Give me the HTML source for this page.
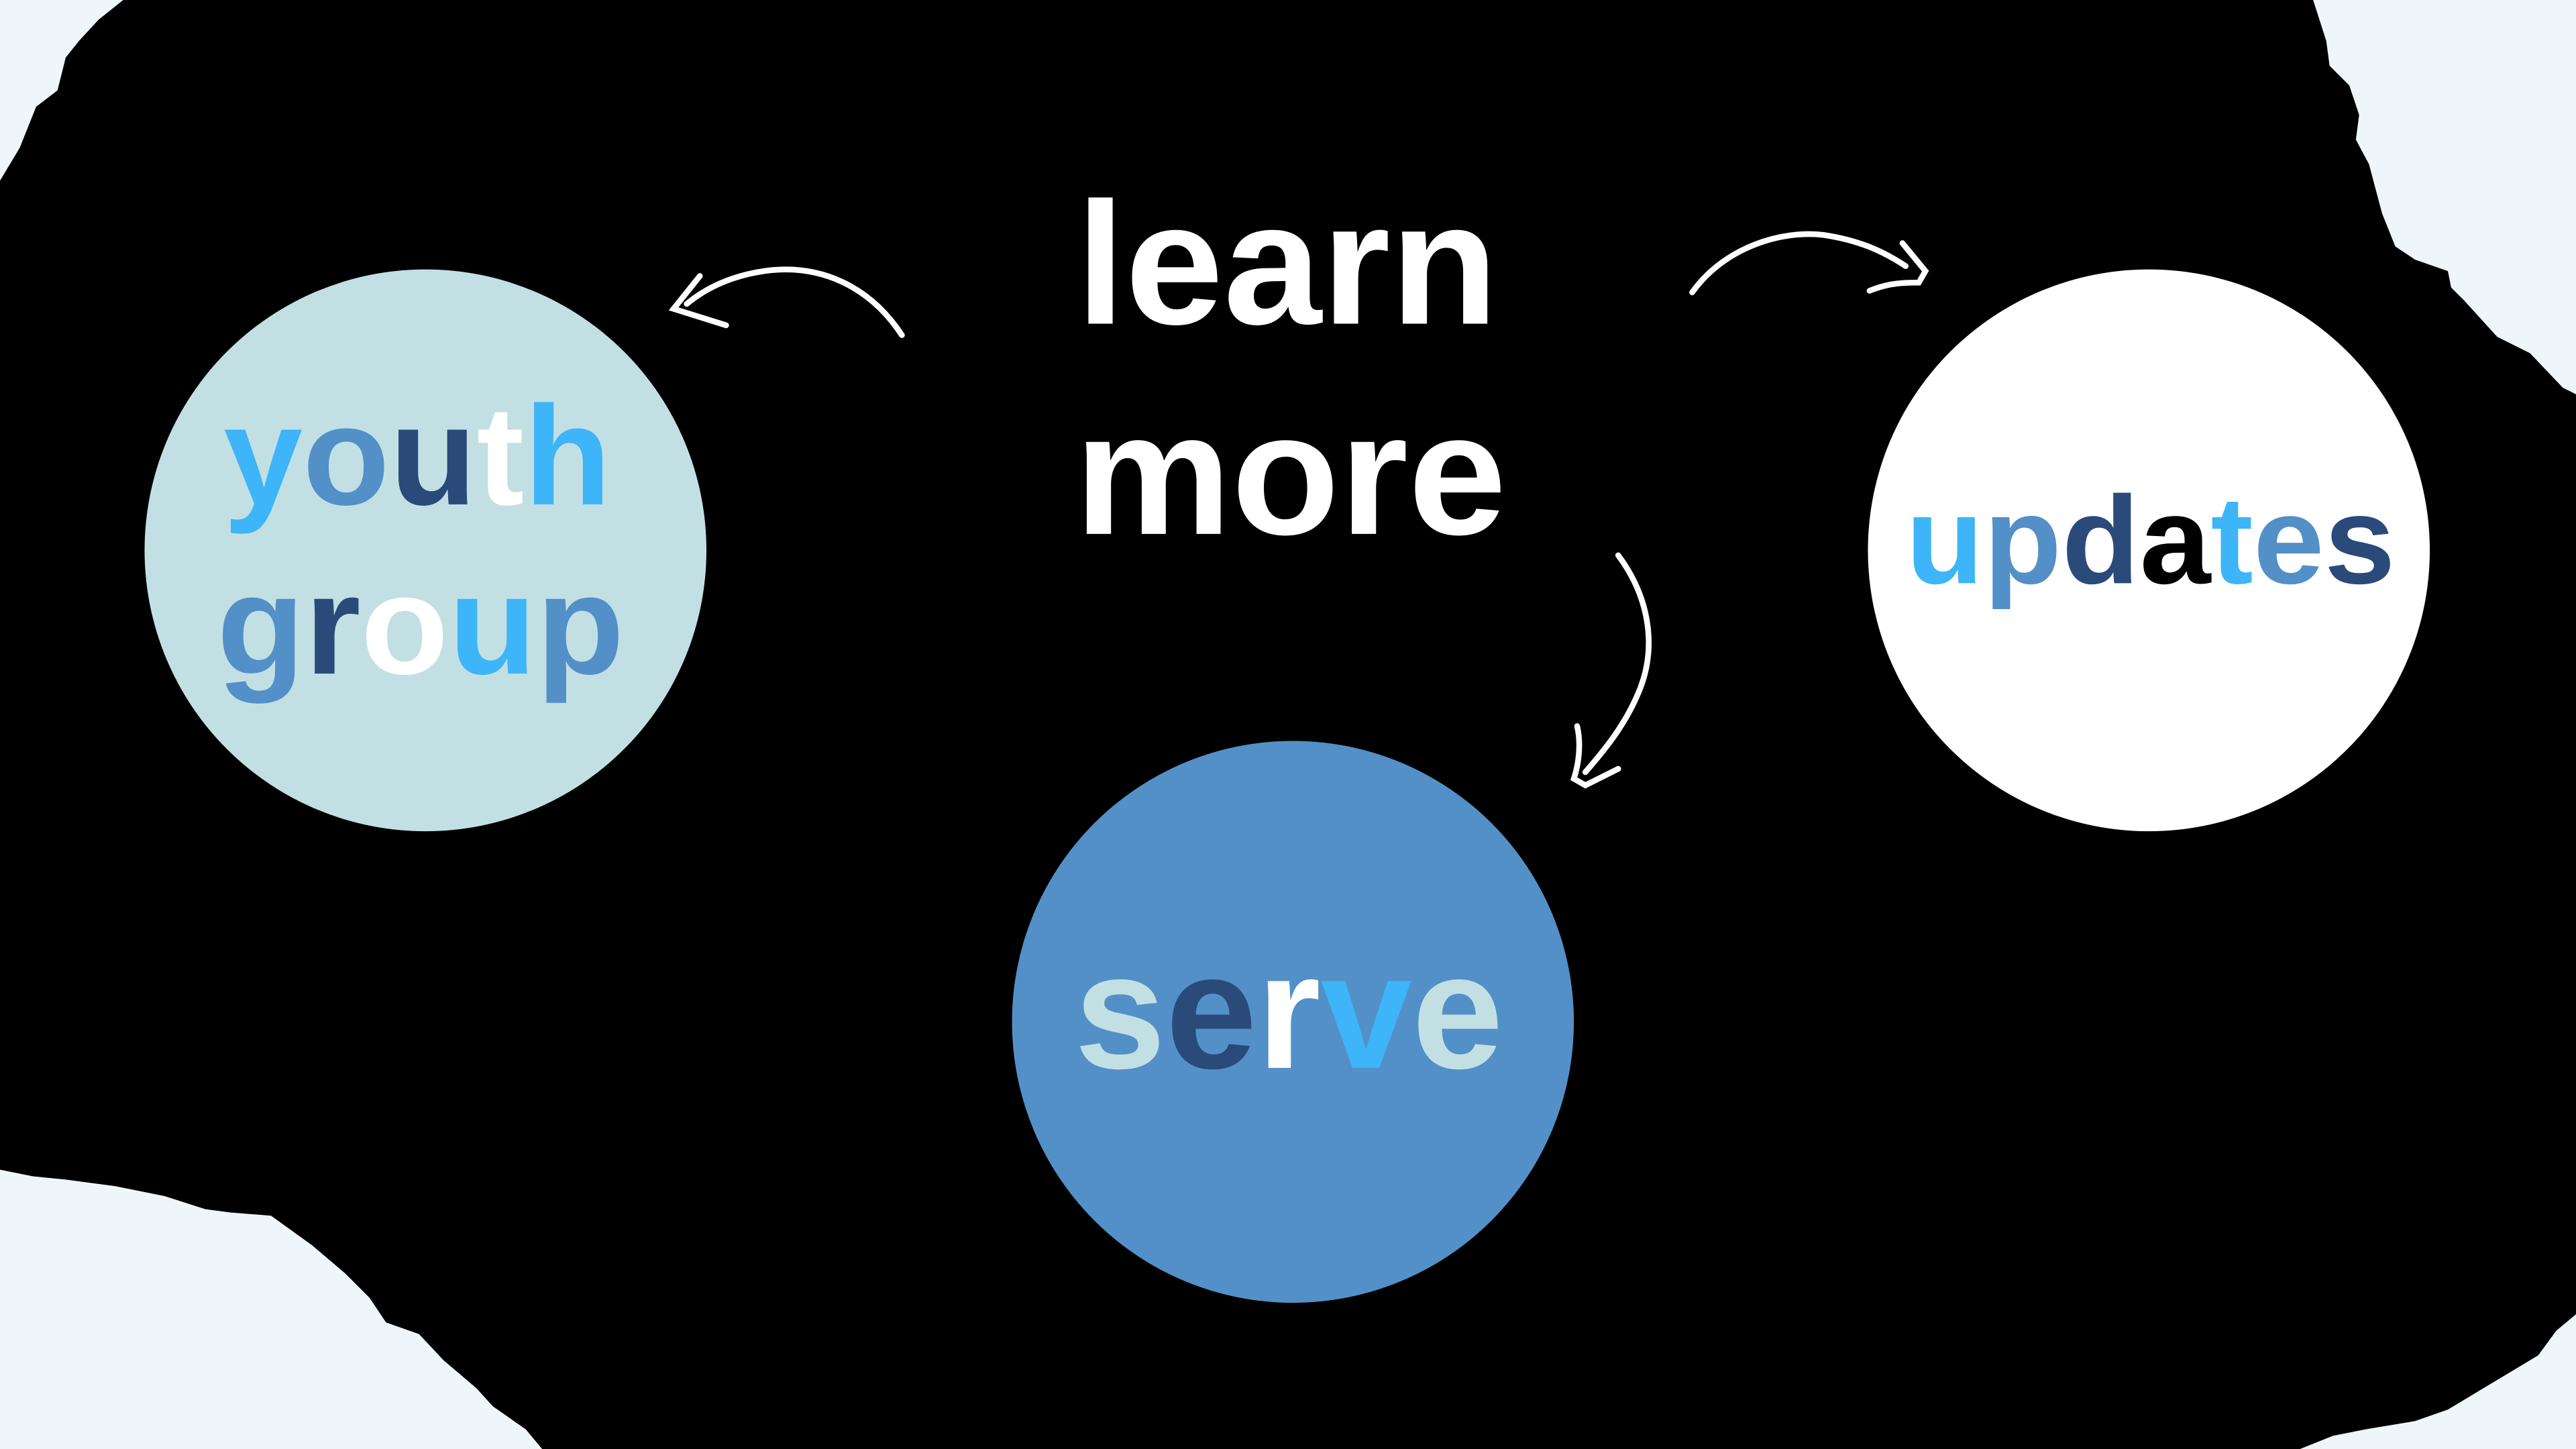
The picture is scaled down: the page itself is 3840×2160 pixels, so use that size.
<!DOCTYPE html>
<html><head><meta charset="utf-8"><style>
html,body{margin:0;padding:0;background:#eef6f9;}
svg{display:block;}
text{font-family:"Liberation Sans",sans-serif;font-weight:bold;}
</style></head><body>
<svg width="3840" height="2160" viewBox="0 0 1568 882" xmlns="http://www.w3.org/2000/svg">
<rect width="1568" height="882" fill="#eef6f9"/>
<path d="M75,0 L1408,0 L1416,25 L1418,40 L1430,52 L1436,70 L1434,85 L1442,100 L1450,130 L1458,150 L1470,158 L1490,165 L1492,175 L1500,183 L1520,205 L1540,215 L1560,236 L1568,240 L1568,800 L1556,810 L1545,825 L1520,840 L1490,858 L1470,865 L1440,870 L1420,874 L1400,882 L330,882 L320,870 L300,856 L290,845 L270,828 L255,812 L235,805 L225,790 L210,775 L190,758 L165,740 L140,738 L125,736 L100,728 L70,722 L40,718 L20,716 L0,712 L0,110 L12,90 L22,65 L35,55 L40,35 L48,25 L60,12 Z" fill="#000"/>
<circle cx="259" cy="335" r="171" fill="#c2e0e4"/>
<circle cx="1308" cy="335" r="171" fill="#fff"/>
<circle cx="787" cy="622" r="171" fill="#5390c8"/>
<text x="655" y="197" font-size="106" fill="#fff" textLength="257" lengthAdjust="spacingAndGlyphs">learn</text>
<text x="654" y="325" font-size="106" fill="#fff" textLength="263" lengthAdjust="spacingAndGlyphs">more</text>
<text x="136" y="307" font-size="86" textLength="236" lengthAdjust="spacingAndGlyphs"><tspan fill="#3db5f8">y</tspan><tspan fill="#5390c8">o</tspan><tspan fill="#2a4a7a">u</tspan><tspan fill="#fff">t</tspan><tspan fill="#3db5f8">h</tspan></text>
<text x="132" y="410" font-size="86" textLength="248" lengthAdjust="spacingAndGlyphs"><tspan fill="#5390c8">g</tspan><tspan fill="#2a4a7a">r</tspan><tspan fill="#fff">o</tspan><tspan fill="#3db5f8">u</tspan><tspan fill="#5390c8">p</tspan></text>
<text x="1160" y="355" font-size="76" textLength="298" lengthAdjust="spacingAndGlyphs"><tspan fill="#3db5f8">u</tspan><tspan fill="#5390c8">p</tspan><tspan fill="#2a4a7a">d</tspan><tspan fill="#000">a</tspan><tspan fill="#3db5f8">t</tspan><tspan fill="#5390c8">e</tspan><tspan fill="#2a4a7a">s</tspan></text>
<text x="654" y="650" font-size="100" textLength="261" lengthAdjust="spacingAndGlyphs"><tspan fill="#c2e0e4">s</tspan><tspan fill="#2a4a7a">e</tspan><tspan fill="#fff">r</tspan><tspan fill="#3db5f8">v</tspan><tspan fill="#c2e0e4">e</tspan></text>
<g fill="none" stroke="#fff" stroke-width="3.5" stroke-linecap="round">
<path d="M549,204 C530,175 500,160 465,165 C445,168 430,175 418,185"/>
<path d="M426,168 L410,188 L442,198"/>
<path d="M1030,178 C1050,150 1085,140 1110,143 C1130,146 1145,152 1160,162"/>
<path d="M1138,177 C1150,172 1160,172 1168,172 L1172,165 L1158,148"/>
<path d="M985,338 C1005,365 1008,395 998,420 C990,440 978,455 965,470"/>
<path d="M960,442 C963,455 960,468 958,474 L965,478 L985,468"/>
</g>
</svg>
</body></html>
